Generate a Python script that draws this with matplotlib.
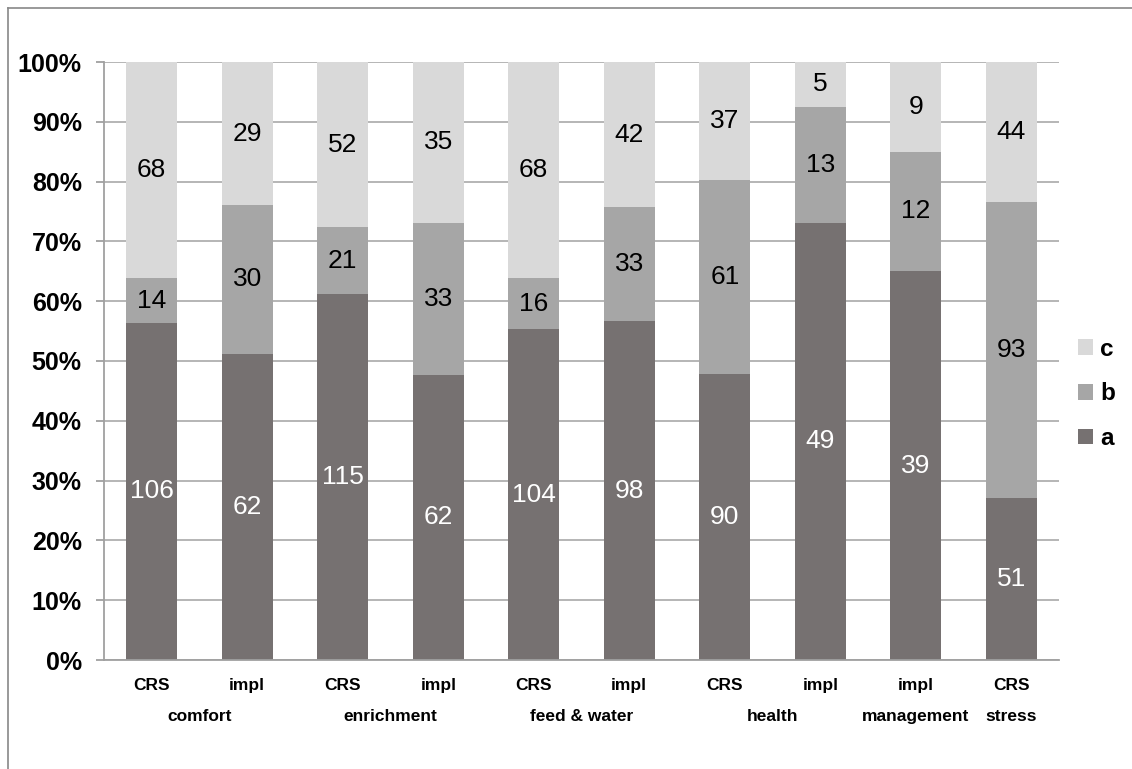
import matplotlib
matplotlib.use("Agg")
import matplotlib.pyplot as plt
from matplotlib.lines import Line2D
import numpy as np

plt.rcParams['font.family'] = ['Liberation Sans', 'DejaVu Sans']

groups = ["comfort", "enrichment", "feed & water", "health", "management", "stress"]
group_bars = [[0, 1], [2, 3], [4, 5], [6, 7], [8], [9]]
bar_labels = ["CRS", "impl", "CRS", "impl", "CRS", "impl", "CRS", "impl", "impl", "CRS"]
a_vals = [106, 62, 115, 62, 104, 98, 90, 49, 39, 51]
b_vals = [14, 30, 21, 33, 16, 33, 61, 13, 12, 93]
c_vals = [68, 29, 52, 35, 68, 42, 37, 5, 9, 44]
series_names = ["a", "b", "c"]
colors = ["#767171", "#a6a6a6", "#d9d9d9"]
text_colors = ["white", "black", "black"]

W, H = 1132, 769
fig = plt.figure(figsize=(W / 100, H / 100), dpi=100)
ax = fig.add_axes([104 / W, 1 - 660 / H, (1059 - 104) / W, (660 - 62) / H])

vals = np.array([a_vals, b_vals, c_vals], dtype=float)
tot = vals.sum(axis=0)
pct = vals / tot * 100
x = np.arange(len(bar_labels))
bottom = np.zeros(len(x))
handles = []
for i in range(3):
    h = ax.bar(x, pct[i], bottom=bottom, width=0.535, color=colors[i], zorder=2, label=series_names[i])
    handles.append(h)
    for j in range(len(x)):
        ax.text(x[j], bottom[j] + pct[i][j] / 2, str(int(vals[i][j])), ha='center', va='center',
                fontsize=19, color=text_colors[i], zorder=3)
    bottom += pct[i]

ax.set_xlim(-0.5, len(x) - 0.5)
ax.set_ylim(0, 100)
ax.set_yticks(np.arange(0, 101, 10))
ax.set_yticklabels([f"{v}%" for v in range(0, 101, 10)], fontsize=18, fontweight='bold')
ax.yaxis.grid(True, color='#b0b0b0', linewidth=1.3, zorder=0)
ax.set_axisbelow(True)
for s in ['top', 'right']:
    ax.spines[s].set_visible(False)
for s in ['left', 'bottom']:
    ax.spines[s].set_color('#a0a0a0')
    ax.spines[s].set_linewidth(1.3)
ax.tick_params(axis='y', length=6, color='#a0a0a0', width=1.3, pad=10)
ax.set_xticks(x)
ax.set_xticklabels(bar_labels, fontsize=12.5, fontweight='bold')
ax.tick_params(axis='x', length=0, pad=13)
for g, bars in zip(groups, group_bars):
    cx = np.mean(bars)
    ax.text(cx, -9.5, g, ha='center', va='center', fontsize=12.5, fontweight='bold',
            transform=ax.transData, clip_on=False)

leg = ax.legend(handles=handles[::-1], labels=series_names[::-1], loc='center left',
                bbox_to_anchor=(0.997, 0.445), frameon=False,
                prop={'weight': 'bold', 'size': 17.5}, handlelength=0.6, handleheight=0.6,
                handletextpad=0.3, labelspacing=0.9)

fig.add_artist(Line2D([8 / W, 8 / W], [0, 1 - 8 / H], color='#888888', lw=1.2))
fig.add_artist(Line2D([8 / W, 1], [1 - 8 / H, 1 - 8 / H], color='#888888', lw=1.2))

fig.savefig("out.png", dpi=100)
